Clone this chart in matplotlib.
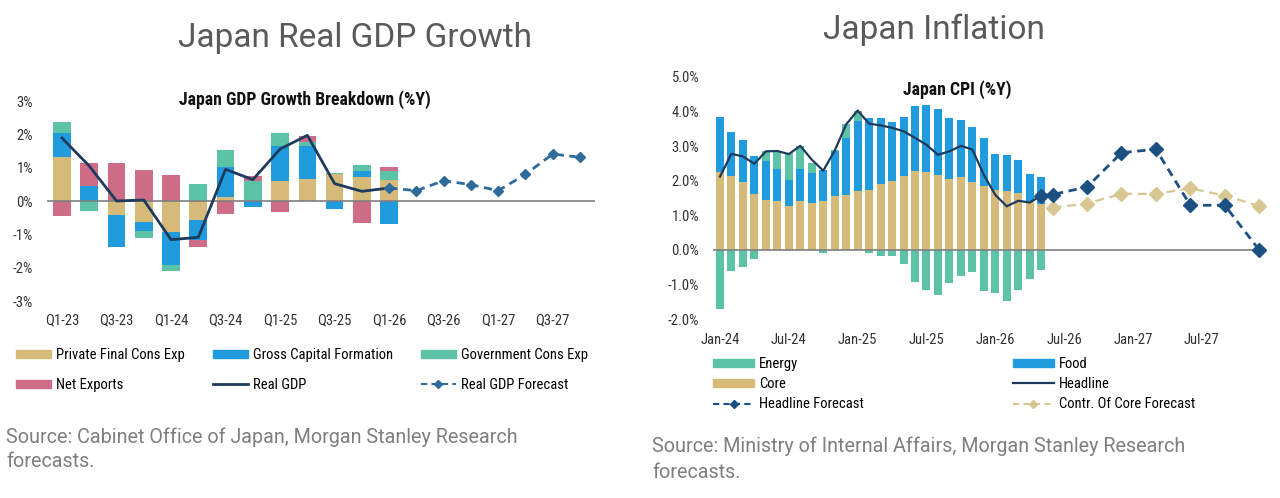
import matplotlib
matplotlib.use('Agg')

import matplotlib.pyplot as plt
import numpy as np
from matplotlib.patches import Patch
from matplotlib.lines import Line2D

# ---- Japan GDP growth breakdown (%Y), Q1-23 .. Q1-26 actual
quarter_labels = ['Q1-23', 'Q3-23', 'Q1-24', 'Q3-24', 'Q1-25',
                  'Q3-25', 'Q1-26', 'Q3-26', 'Q1-27', 'Q3-27']
pfce = [1.31, 0.00, -0.43, -0.63, -0.94, -0.58, 0.13, 0.00, 0.61, 0.66, 0.80, 0.72, 0.62]
gcf = [0.74, 0.44, -0.95, -0.26, -0.97, -0.58, 0.89, -0.17, 1.05, 1.00, -0.24, 0.19, -0.68]
gov = [0.31, -0.30, 0.00, -0.22, -0.20, 0.51, 0.51, 0.59, 0.39, 0.12, 0.05, 0.18, 0.28]
net_exports = [-0.45, 0.69, 1.13, 0.92, 0.79, -0.22, -0.40, 0.15, -0.33, 0.18, 0.00, -0.65, 0.13]
real_gdp = [1.89, 1.05, 0.00, 0.03, -1.16, -1.09, 0.95, 0.64, 1.56, 1.97, 0.52, 0.29, 0.39]
gdp_forecast = [0.39, 0.31, 0.61, 0.49, 0.31, 0.80, 1.41, 1.31]  # Q1-26 .. Q4-27

# ---- Japan CPI (%Y), monthly Jan-24 .. May-26 actual
month_labels = ['Jan-24', 'Jul-24', 'Jan-25', 'Jul-25', 'Jan-26', 'Jul-26', 'Jan-27', 'Jul-27']
core = [2.25, 2.13, 1.96, 1.61, 1.45, 1.40, 1.28, 1.40, 1.35, 1.42, 1.55, 1.59, 1.69, 1.74,
        1.90, 2.00, 2.13, 2.29, 2.25, 2.17, 2.06, 2.10, 1.96, 1.86, 1.74, 1.69, 1.64, 1.42, 1.32]
food = [1.59, 1.27, 1.23, 1.11, 1.11, 0.95, 0.75, 0.95, 0.87, 0.90, 1.32, 1.65, 2.05, 2.06,
        1.90, 1.70, 1.71, 1.88, 1.95, 1.89, 1.74, 1.67, 1.59, 1.38, 1.03, 1.04, 0.95, 0.77, 0.78]
energy = [-1.72, -0.61, -0.51, -0.26, 0.29, 0.50, 0.77, 0.65, 0.29, -0.10, 0.02, 0.40, 0.27, -0.10,
          -0.17, -0.19, -0.41, -0.94, -1.16, -1.32, -0.95, -0.75, -0.63, -1.18, -1.26, -1.48, -1.16, -0.85, -0.58]
headline = [2.12, 2.78, 2.70, 2.49, 2.85, 2.86, 2.77, 3.01, 2.61, 2.29, 2.87, 3.63, 4.03, 3.65,
            3.60, 3.53, 3.43, 3.24, 3.04, 2.75, 2.85, 3.01, 2.90, 2.17, 1.59, 1.26, 1.42, 1.37, 1.57]
headline_fc_month = [28, 29, 32, 35, 38, 41, 44, 47]  # May-26, then quarter ends
headline_fc = [1.57, 1.60, 1.82, 2.81, 2.91, 1.29, 1.29, 0.00]
core_fc_month = [29, 32, 35, 38, 41, 44, 47]
core_fc = [1.22, 1.34, 1.62, 1.62, 1.78, 1.57, 1.27]

tan = '#D5BA7A'
blue = '#1F9BDE'
teal = '#5DC3A7'
pink = '#CF6D89'
navy = '#1E3A5C'
fc_blue = '#2E6B9B'
fc_navy = '#1C4F82'
core_gold = '#D8C792'

narrow = ['Liberation Sans Narrow', 'Roboto Condensed', 'Roboto']
plain = ['Roboto', 'DejaVu Sans']


def stacked(ax, x, series, colors, width):
    pos = np.zeros(len(x))
    neg = np.zeros(len(x))
    for vals, c in zip(series, colors):
        v = np.array(vals)
        base = np.where(v >= 0, pos, neg)
        ax.bar(x, v, width, bottom=base, color=c, linewidth=0)
        pos = pos + np.clip(v, 0, None)
        neg = neg + np.clip(v, None, 0)


def clean(ax):
    for s in ax.spines.values():
        s.set_visible(False)
    ax.tick_params(length=0, labelsize=10.5, labelcolor='#333333')
    for lab in ax.get_xticklabels() + ax.get_yticklabels():
        lab.set_family(narrow)
    ax.axhline(0, color='#7f7f7f', lw=1.2, zorder=1)


W, H = 1280, 498
fig = plt.figure(figsize=(12.8, 4.98), dpi=100)

# ---------------- left: GDP
ax1 = fig.add_axes([47 / W, (H - 301) / H, (595 - 47) / W, 200 / H])
xq = np.arange(len(pfce))
stacked(ax1, xq, [pfce, gcf, gov, net_exports], [tan, blue, teal, pink], 0.65)
ax1.plot(xq, real_gdp, color=navy, lw=2, zorder=3)
xf = np.arange(len(pfce) - 1, len(pfce) - 1 + len(gdp_forecast))
ax1.plot(xf, gdp_forecast, color=fc_blue, lw=2, ls=(0, (3, 2)), marker='D', ms=5,
         zorder=4, clip_on=False)
ax1.set_xlim(-0.55, 19.55)
ax1.set_ylim(-3, 3)
ax1.set_xticks(np.arange(0, 20, 2))
ax1.set_xticklabels(quarter_labels)
ax1.set_yticks(np.arange(-3, 4))
ax1.set_yticklabels(['%d%%' % v for v in range(-3, 4)])
ax1.tick_params(axis='x', pad=9)
ax1.tick_params(axis='y', pad=10)
clean(ax1)

h1 = [Patch(color=tan, label='Private Final Cons Exp'),
      Patch(color=pink, label='Net Exports'),
      Patch(color=blue, label='Gross Capital Formation'),
      Line2D([], [], color=navy, lw=2, label='Real GDP'),
      Patch(color=teal, label='Government Cons Exp'),
      Line2D([], [], color=fc_blue, lw=1.5, ls=(0, (3, 2)), marker='D', ms=4,
             label='Real GDP Forecast')]
fig.legend(handles=h1, ncol=3, loc='upper left', bbox_to_anchor=(3 / W, 1 - 335 / H),
           frameon=False, handlelength=2.4, handleheight=0.55, handletextpad=0.35,
           columnspacing=1.9, labelspacing=1.1, prop={'family': narrow, 'size': 10.5})

fig.text(355 / W, 1 - 38 / H, 'Japan Real GDP Growth', ha='center', va='center',
         fontsize=24, color='#5a5a5a', family=plain)
fig.text(305 / W, 1 - 100 / H, 'Japan GDP Growth Breakdown (%Y)', ha='center', va='center',
         fontsize=12.8, weight='bold', family=narrow, color='#111111')
for i, line in enumerate(['Source: Cabinet Office of Japan, Morgan Stanley Research', 'forecasts.']):
    fig.text(6 / W, 1 - (437 + 24 * i) / H, line, ha='left', va='center',
             fontsize=14.2, color='#7f7f7f', family=plain)

# ---------------- right: CPI
ax2 = fig.add_axes([713 / W, (H - 319) / H, (1262 - 713) / W, 242 / H])
xm = np.arange(len(core))
stacked(ax2, xm, [core, food, energy], [tan, blue, teal], 0.7)
ax2.plot(xm, headline, color=navy, lw=1.6, zorder=3)
ax2.plot(core_fc_month, core_fc, color=core_gold, lw=1.6, ls=(0, (4, 2.5)), marker='D',
         ms=7, zorder=4, clip_on=False)
ax2.plot(headline_fc_month, headline_fc, color=fc_navy, lw=2, ls=(0, (3, 2)), marker='D',
         ms=7, zorder=5, clip_on=False)
ax2.set_xlim(-0.61, 47.25)
ax2.set_ylim(-2, 5)
ax2.set_xticks(np.arange(0, 48, 6))
ax2.set_xticklabels(month_labels)
ax2.set_yticks(np.arange(-2, 6))
ax2.set_yticklabels(['%.1f%%' % v for v in range(-2, 6)])
ax2.tick_params(axis='x', pad=10)
ax2.tick_params(axis='y', pad=10)
clean(ax2)

h2 = [Patch(color=teal, label='Energy'),
      Patch(color=tan, label='Core'),
      Line2D([], [], color=fc_navy, lw=1.5, ls=(0, (3, 2)), marker='D', ms=4,
             label='Headline Forecast'),
      Patch(color=blue, label='Food'),
      Line2D([], [], color=navy, lw=1.6, label='Headline'),
      Line2D([], [], color=core_gold, lw=1.5, ls=(0, (3, 2)), marker='D', ms=4,
             label='Contr. Of Core Forecast')]
fig.legend(handles=h2, ncol=2, loc='upper left', bbox_to_anchor=(700 / W, 1 - 344 / H),
           frameon=False, handlelength=2.8, handleheight=0.55, handletextpad=0.35,
           columnspacing=10.2, labelspacing=0.42, prop={'family': narrow, 'size': 10.5})

fig.text(934 / W, 1 - 30 / H, 'Japan Inflation', ha='center', va='center',
         fontsize=24, color='#5a5a5a', family=plain)
fig.text(957 / W, 1 - 90 / H, 'Japan CPI (%Y)', ha='center', va='center',
         fontsize=12.8, weight='bold', family=narrow, color='#111111')
for i, line in enumerate(['Source: Ministry of Internal Affairs, Morgan Stanley Research', 'forecasts.']):
    fig.text(652 / W, 1 - (446 + 26 * i) / H, line, ha='left', va='center',
             fontsize=14.2, color='#7f7f7f', family=plain)

fig.savefig('out.png', dpi=100, facecolor='white')
